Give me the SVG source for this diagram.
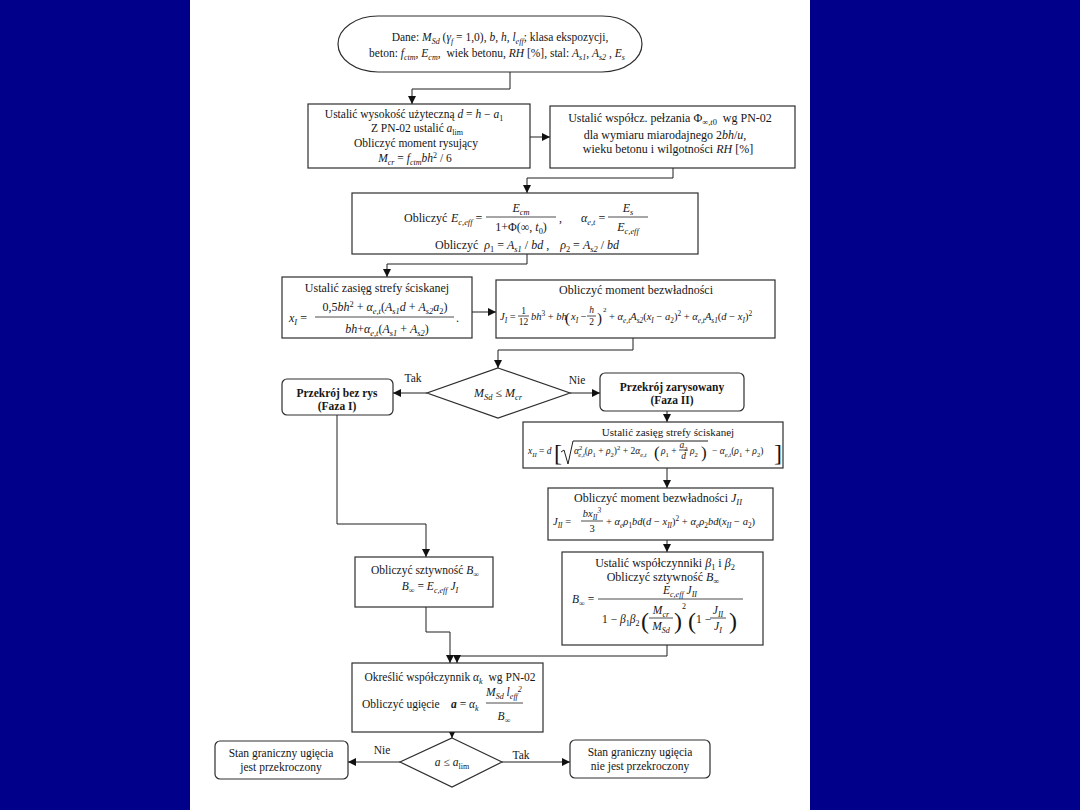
<svg xmlns="http://www.w3.org/2000/svg" width="1080" height="810" viewBox="0 0 1080 810">
<defs>
<style>
.t{font-family:"Liberation Serif","Times New Roman",serif;font-size:11.5px;fill:#161616}
.f9{font-size:9.5px}
.f10{font-size:10.5px}
.f11{font-size:11px}
.f12{font-size:12px}
.d15{font-size:15px}
.d17{font-size:17px}
.d24{font-size:24px}
.i{font-style:italic}
.n{font-style:normal}
.b{font-weight:bold}
.s{font-size:70%;baseline-shift:-2.5px}
.p{font-size:70%;baseline-shift:4px}
.c{text-anchor:middle}
.box{fill:#fff;stroke:#2e2e2e;stroke-width:1.2}
.ln{fill:none;stroke:#1e1e1e;stroke-width:1}
.bar{stroke:#1e1e1e;stroke-width:0.8}
</style>
<marker id="ar" markerWidth="8" markerHeight="8" refX="8" refY="4" orient="auto" markerUnits="userSpaceOnUse"><path d="M0,0 L8,4 L0,8 z" fill="#111"/></marker>
</defs>
<rect x="0" y="0" width="1080" height="810" fill="#00008a"/>
<rect x="190" y="0" width="620" height="810" fill="#ffffff"/>

<g id="connectors" class="ln">
<path d="M510,72 V89 H412 V104" marker-end="url(#ar)"/>
<path d="M530,137 H550" marker-end="url(#ar)"/>
<path d="M673,168 V178 H527 V193" marker-end="url(#ar)"/>
<path d="M527,254 V264 H387 V277" marker-end="url(#ar)"/>
<path d="M472,312 H496" marker-end="url(#ar)"/>
<path d="M633,338 V350 H498 V368" marker-end="url(#ar)"/>
<path d="M427,393 H393" marker-end="url(#ar)"/>
<path d="M570,393 H600" marker-end="url(#ar)"/>
<path d="M667,411 V422" marker-end="url(#ar)"/>
<path d="M667,468 V488" marker-end="url(#ar)"/>
<path d="M667,540 V552" marker-end="url(#ar)"/>
<path d="M337,415 V524 H426 V557" marker-end="url(#ar)"/>
<path d="M426,607 V632 H450 V663" marker-end="url(#ar)"/>
<path d="M667,645 V656 H457 V663" marker-end="url(#ar)"/>
<path d="M452,732 V738" marker-end="url(#ar)"/>
<path d="M400,762 H348" marker-end="url(#ar)"/>
<path d="M502,762 H570" marker-end="url(#ar)"/>
</g>
<g id="connector-labels">
<text class="t c" x="413" y="382">Tak</text>
<text class="t c" x="577" y="384">Nie</text>
<text class="t c" x="382" y="754">Nie</text>
<text class="t c" x="521" y="759">Tak</text>
</g>

<g id="start">
<rect class="box" x="338" y="16" width="304" height="56" rx="40" ry="28"/>
<text class="t c" x="500" y="41">Dane: <tspan class="i">M</tspan><tspan class="s i">Sd</tspan> (<tspan class="i">γ</tspan><tspan class="s i">f</tspan> = 1,0), <tspan class="i">b</tspan>, <tspan class="i">h</tspan>, <tspan class="i">l</tspan><tspan class="s i">eff</tspan>;  klasa ekspozycji,</text>
<text class="t c" x="497" y="57">beton: <tspan class="i">f</tspan><tspan class="s i">ctm</tspan>, <tspan class="i">E</tspan><tspan class="s i">cm</tspan>, <tspan dx="3">wiek betonu,</tspan> <tspan class="i">RH</tspan> [%], stal: <tspan class="i">A</tspan><tspan class="s i">s1</tspan>, <tspan class="i">A</tspan><tspan class="s i">s2</tspan> , <tspan class="i">E</tspan><tspan class="s i">s</tspan></text>
</g>

<g id="n1">
<rect class="box" x="308" y="104" width="222" height="64"/>
<text class="t c" x="414" y="118">Ustalić wysokość użyteczną <tspan class="i">d</tspan> = <tspan class="i">h</tspan> − <tspan class="i">a</tspan><tspan class="s">1</tspan></text>
<text class="t c" x="417" y="132">Z PN-02 ustalić <tspan class="i">a</tspan><tspan class="s">lim</tspan></text>
<text class="t c" x="416" y="147">Obliczyć moment rysujący</text>
<text class="t c" x="415" y="162"><tspan class="i">M</tspan><tspan class="s i">cr</tspan> = <tspan class="i">f</tspan><tspan class="s i">ctm</tspan><tspan class="i">bh</tspan><tspan class="p">2</tspan> / 6</text>
</g>

<g id="n2">
<rect class="box" x="550" y="106" width="245" height="62"/>
<text class="t f12 c" x="670" y="122">Ustalić współcz. pełzania Φ<tspan class="s">∞,<tspan class="i">t</tspan>0</tspan> <tspan dx="3">wg PN-02</tspan></text>
<text class="t f12 c" x="665" y="139">dla wymiaru miarodajnego 2<tspan class="i">bh</tspan>/<tspan class="i">u</tspan>,</text>
<text class="t f12 c" x="668" y="153">wieku betonu i wilgotności <tspan class="i">RH</tspan> [%]</text>
</g>

<g id="n3">
<rect class="box" x="352" y="193" width="346" height="61"/>
<text class="t f12" x="404" y="222">Obliczyć</text>
<text class="t f12 i" x="451" y="222">E<tspan class="s">c,eff</tspan> <tspan class="n">=</tspan></text>
<line class="bar" x1="486" y1="217" x2="556" y2="217"/>
<text class="t f12 i c" x="521" y="212">E<tspan class="s">cm</tspan></text>
<text class="t f12 c" x="521" y="231">1+Φ(∞, <tspan class="i">t</tspan><tspan class="s">0</tspan>)</text>
<text class="t f12" x="559" y="222">,</text>
<text class="t f12 i" x="581" y="222">α<tspan class="s">e,t</tspan> <tspan class="n">=</tspan></text>
<line class="bar" x1="608" y1="217" x2="648" y2="217"/>
<text class="t f12 i c" x="628" y="212">E<tspan class="s">s</tspan></text>
<text class="t f12 i c" x="628" y="231">E<tspan class="s">c,eff</tspan></text>
<text class="t f12 c" x="527" y="249">Obliczyć <tspan dx="3" class="i">ρ</tspan><tspan class="s">1</tspan> = <tspan class="i">A</tspan><tspan class="s i">s1</tspan> / <tspan class="i">bd</tspan> , <tspan dx="8" class="i">ρ</tspan><tspan class="s">2</tspan> = <tspan class="i">A</tspan><tspan class="s i">s2</tspan> / <tspan class="i">bd</tspan></text>
</g>

<g id="n4">
<rect class="box" x="282" y="277" width="190" height="61"/>
<text class="t f12 c" x="377" y="292">Ustalić zasięg strefy ściskanej</text>
<text class="t f12 i" x="289" y="322">x<tspan class="s">I</tspan> <tspan class="n">=</tspan></text>
<line class="bar" x1="315" y1="317" x2="454" y2="317"/>
<text class="t f12 c" x="385" y="311">0,5<tspan class="i">bh</tspan><tspan class="p">2</tspan> + <tspan class="i">α</tspan><tspan class="s i">e,t</tspan>(<tspan class="i">A</tspan><tspan class="s i">s1</tspan><tspan class="i">d</tspan> + <tspan class="i">A</tspan><tspan class="s i">s2</tspan><tspan class="i">a</tspan><tspan class="s">2</tspan>)</text>
<text class="t f12 c" x="387" y="333"><tspan class="i">bh</tspan>+<tspan class="i">α</tspan><tspan class="s i">e,t</tspan>(<tspan class="i">A</tspan><tspan class="s i">s1</tspan> + <tspan class="i">A</tspan><tspan class="s i">s2</tspan>)</text>
<text class="t f12" x="456" y="322">.</text>
</g>

<g id="n5">
<rect class="box" x="496" y="280" width="279" height="58"/>
<text class="t f12 c" x="636" y="294">Obliczyć moment bezwładności</text>
<text class="t f10 i" x="500" y="320">J<tspan class="s">I</tspan> <tspan class="n">=</tspan></text>
<line class="bar" x1="518" y1="316" x2="529" y2="316"/>
<text class="t f9 c" x="523.5" y="314">1</text>
<text class="t f9 c" x="523.5" y="325">12</text>
<text class="t f10" x="531" y="320"><tspan class="i">bh</tspan><tspan class="p">3</tspan> + <tspan class="i">bh</tspan></text>
<text class="t d15" x="565" y="323">(</text>
<text class="t f10" x="571" y="320"><tspan class="i">x</tspan><tspan class="s i">I</tspan> −</text>
<line class="bar" x1="587" y1="316" x2="596" y2="316"/>
<text class="t f9 c i" x="591.5" y="313">h</text>
<text class="t f9 c" x="591.5" y="325">2</text>
<text class="t d15" x="597" y="323">)</text>
<text class="t" x="603" y="312" style="font-size:7px">2</text>
<text class="t f10" x="609" y="320">+ <tspan class="i">α</tspan><tspan class="s i">e,t</tspan><tspan class="i">A</tspan><tspan class="s i">s2</tspan>(<tspan class="i">x</tspan><tspan class="s i">I</tspan> − <tspan class="i">a</tspan><tspan class="s">2</tspan>)<tspan class="p">2</tspan> + <tspan class="i">α</tspan><tspan class="s i">e,t</tspan><tspan class="i">A</tspan><tspan class="s i">s1</tspan>(<tspan class="i">d</tspan> − <tspan class="i">x</tspan><tspan class="s i">I</tspan>)<tspan class="p">2</tspan></text>
</g>

<g id="decision1">
<polygon class="box" points="498,368 570,393 498,418 427,393"/>
<text class="t f12 c i" x="498" y="397">M<tspan class="s">Sd</tspan> <tspan class="n">≤</tspan> M<tspan class="s">cr</tspan></text>
</g>

<g id="n6">
<rect class="box" x="282" y="379" width="111" height="36" rx="5"/>
<text class="t c b" x="337" y="397">Przekrój bez rys</text>
<text class="t c b" x="337" y="410">(Faza I)</text>
</g>

<g id="n7">
<rect class="box" x="600" y="373" width="144" height="38" rx="5"/>
<text class="t c b" x="672" y="391">Przekrój zarysowany</text>
<text class="t c b" x="672" y="404">(Faza II)</text>
</g>

<g id="n8">
<rect class="box" x="523" y="422" width="260" height="46"/>
<text class="t f11 c" x="668" y="436">Ustalić zasięg strefy ściskanej</text>
<text class="t f9 i" x="528" y="454">x<tspan class="s">II</tspan> <tspan class="n">=</tspan> d</text>
<text class="t d24" x="554" y="461">[</text>
<path class="ln" d="M561,452 L564,450 L568,464 L573,441 L708,441" stroke-width="0.8"/>
<text class="t f9" x="574" y="454"><tspan class="i">α</tspan><tspan class="p">2</tspan><tspan class="s i" dx="-4">e,t</tspan>(<tspan class="i">ρ</tspan><tspan class="s">1</tspan> + <tspan class="i">ρ</tspan><tspan class="s">2</tspan>)<tspan class="p">2</tspan> + 2<tspan class="i">α</tspan><tspan class="s i">e,t</tspan></text>
<text class="t d17" x="654" y="458">(</text>
<text class="t f9" x="661" y="454"><tspan class="i">ρ</tspan><tspan class="s">1</tspan> +</text>
<line class="bar" x1="679" y1="450" x2="688" y2="450"/>
<text class="t f9 c" x="683.5" y="448"><tspan class="i">a</tspan><tspan class="s">2</tspan></text>
<text class="t f9 c i" x="683.5" y="459">d</text>
<text class="t f9" x="690" y="454"><tspan class="i">ρ</tspan><tspan class="s">2</tspan></text>
<text class="t d17" x="701" y="458">)</text>
<text class="t f9" x="712" y="454">− <tspan class="i">α</tspan><tspan class="s i">e,t</tspan>(<tspan class="i">ρ</tspan><tspan class="s">1</tspan> + <tspan class="i">ρ</tspan><tspan class="s">2</tspan>)</text>
<text class="t d24" x="774" y="461">]</text>
</g>

<g id="n9">
<rect class="box" x="548" y="488" width="225" height="52"/>
<text class="t f12 c" x="658" y="502">Obliczyć moment bezwładności <tspan class="i">J</tspan><tspan class="s i">II</tspan></text>
<text class="t f10 i" x="553" y="525">J<tspan class="s">II</tspan> <tspan class="n">=</tspan></text>
<line class="bar" x1="581" y1="521" x2="603" y2="521"/>
<text class="t f10 c i" x="592" y="517">bx<tspan class="s">II</tspan><tspan class="p">3</tspan></text>
<text class="t f10 c" x="592" y="532">3</text>
<text class="t f10" x="606" y="525">+ <tspan class="i">α</tspan><tspan class="s i">e</tspan><tspan class="i">ρ</tspan><tspan class="s">1</tspan><tspan class="i">bd</tspan>(<tspan class="i">d</tspan> − <tspan class="i">x</tspan><tspan class="s i">II</tspan>)<tspan class="p">2</tspan> + <tspan class="i">α</tspan><tspan class="s i">e</tspan><tspan class="i">ρ</tspan><tspan class="s">2</tspan><tspan class="i">bd</tspan>(<tspan class="i">x</tspan><tspan class="s i">II</tspan> − <tspan class="i">a</tspan><tspan class="s">2</tspan>)</text>
</g>

<g id="n10">
<rect class="box" x="562" y="552" width="201" height="93"/>
<text class="t f12 c" x="665" y="567">Ustalić współczynniki <tspan class="i">β</tspan><tspan class="s">1</tspan> i <tspan class="i">β</tspan><tspan class="s">2</tspan></text>
<text class="t f12 c" x="663" y="581">Obliczyć sztywność <tspan class="i">B</tspan><tspan class="s">∞</tspan></text>
<text class="t i" x="572" y="603">B<tspan class="s n">∞</tspan> <tspan class="n">=</tspan></text>
<line class="bar" x1="598" y1="599" x2="743" y2="599"/>
<text class="t c i" x="680" y="594">E<tspan class="s">c,eff</tspan> J<tspan class="s">II</tspan></text>
<text class="t" x="602" y="623">1 − <tspan class="i">β</tspan><tspan class="s">1</tspan><tspan class="i">β</tspan><tspan class="s">2</tspan></text>
<text class="t d24" x="641" y="629">(</text>
<line class="bar" x1="649" y1="618" x2="673" y2="618"/>
<text class="t c i" x="661" y="614">M<tspan class="s">cr</tspan></text>
<text class="t c i" x="661" y="630">M<tspan class="s">Sd</tspan></text>
<text class="t d24" x="674" y="629">)</text>
<text class="t" x="682" y="609" style="font-size:8px">2</text>
<text class="t d24" x="688" y="629">(</text>
<text class="t" x="696" y="623">1 −</text>
<line class="bar" x1="710" y1="618" x2="726" y2="618"/>
<text class="t c i" x="718" y="614">J<tspan class="s">II</tspan></text>
<text class="t c i" x="718" y="630">J<tspan class="s">I</tspan></text>
<text class="t d24" x="729" y="629">)</text>
</g>

<g id="n11">
<rect class="box" x="355" y="557" width="138" height="50"/>
<text class="t c" x="425" y="574">Obliczyć sztywność <tspan class="i">B</tspan><tspan class="s">∞</tspan></text>
<text class="t c i" x="430" y="590">B<tspan class="s n">∞</tspan> <tspan class="n">=</tspan> E<tspan class="s">c,eff</tspan> J<tspan class="s">I</tspan></text>
</g>

<g id="n12">
<rect class="box" x="352" y="663" width="191" height="69"/>
<text class="t c" x="450" y="681">Określić współczynnik <tspan class="i">α</tspan><tspan class="s i">k</tspan> <tspan dx="3">wg PN-02</tspan></text>
<text class="t" x="362" y="708">Obliczyć ugięcie</text>
<text class="t i" x="451" y="708"><tspan class="b">a</tspan> <tspan class="n">=</tspan> α<tspan class="s">k</tspan></text>
<line class="bar" x1="486" y1="703" x2="523" y2="703"/>
<text class="t c i" x="504" y="696">M<tspan class="s">Sd</tspan> l<tspan class="s">eff</tspan><tspan class="p">2</tspan></text>
<text class="t c i" x="504" y="720">B<tspan class="s n">∞</tspan></text>
</g>

<g id="decision2">
<polygon class="box" points="452,738 502,762 452,787 400,762"/>
<text class="t c i" x="452" y="766">a <tspan class="n">≤</tspan> a<tspan class="s n">lim</tspan></text>
</g>

<g id="n13">
<rect class="box" x="215" y="741" width="133" height="38" rx="5"/>
<text class="t c" x="281" y="757">Stan graniczny ugięcia</text>
<text class="t c" x="281" y="771">jest przekroczony</text>
</g>

<g id="n14">
<rect class="box" x="570" y="740" width="140" height="38" rx="5"/>
<text class="t c" x="640" y="756">Stan graniczny ugięcia</text>
<text class="t c" x="640" y="770">nie jest przekroczony</text>
</g>
</svg>
